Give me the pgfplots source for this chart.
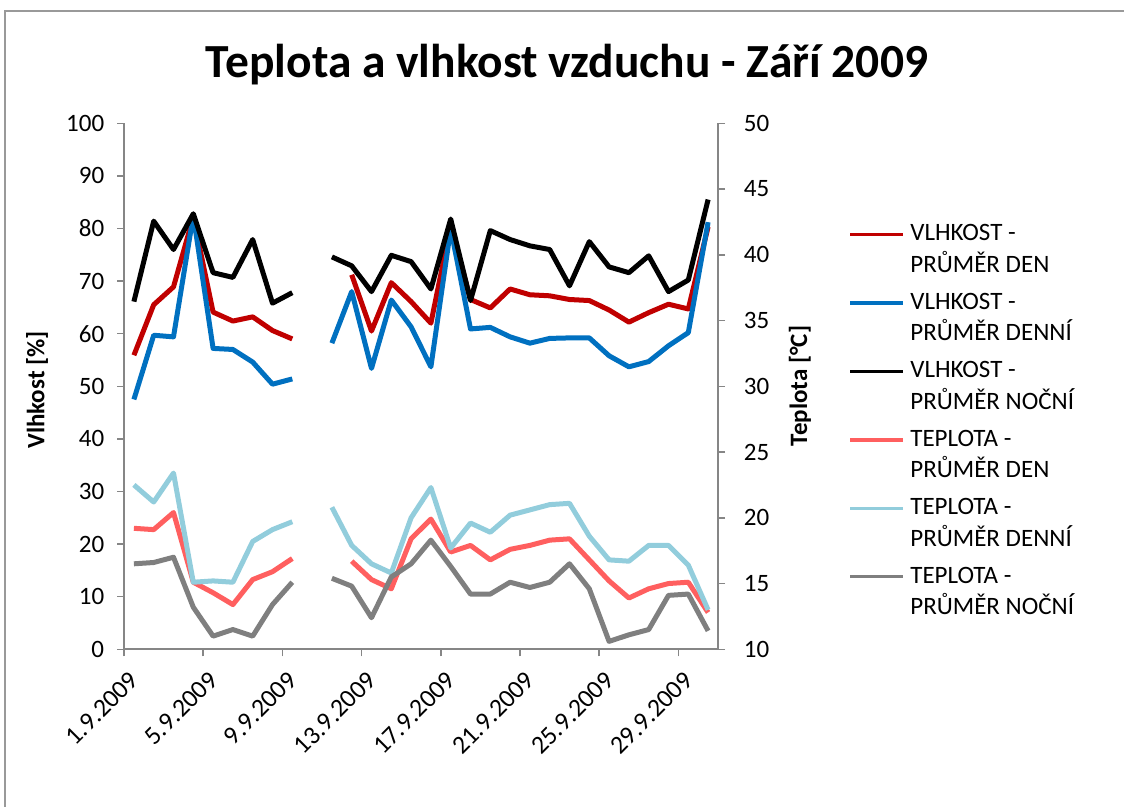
\documentclass[border=0pt]{standalone}
\usepackage{fontspec}
\setmainfont{Carlito}
\usepackage{pgfplots}
\pgfplotsset{compat=1.18}
\usepackage{pgfplotstable}

\definecolor{cVD}{HTML}{C00000}
\definecolor{cVDN}{HTML}{0070C0}
\definecolor{cVN}{HTML}{000000}
\definecolor{cTD}{HTML}{FF5F5F}
\definecolor{cTDN}{HTML}{92CDDC}
\definecolor{cTN}{HTML}{7F7F7F}
\definecolor{axgray}{HTML}{868686}

\pgfplotstableread{
day VD VDN VN TD TDN TN
1 55.9 47.5 66.1 19.2 22.5 16.5
2 65.5 59.7 81.4 19.1 21.2 16.6
3 68.9 59.4 76.0 20.4 23.4 17.0
4 82.2 82.5 82.8 15.1 15.1 13.2
5 64.1 57.2 71.6 14.3 15.2 11.0
6 62.4 57.0 70.7 13.4 15.1 11.5
7 63.2 54.6 77.9 15.3 18.2 11.0
8 60.6 50.4 65.8 15.9 19.1 13.4
9 59.0 51.4 67.8 16.9 19.7 15.1
10 nan nan nan nan nan nan
11 nan 58.2 74.6 nan 20.8 15.4
12 71.2 68.0 72.9 16.7 17.9 14.8
13 60.5 53.4 68.0 15.3 16.5 12.4
14 69.7 66.4 74.9 14.6 15.8 15.5
15 66.1 61.3 73.7 18.4 20.0 16.5
16 62.0 53.7 68.5 19.9 22.3 18.3
17 80.5 80.0 81.8 17.4 17.7 16.3
18 66.5 60.9 66.3 17.9 19.6 14.2
19 64.9 61.2 79.6 16.8 18.9 14.2
20 68.5 59.4 77.9 17.6 20.2 15.1
21 67.4 58.2 76.7 17.9 20.6 14.7
22 67.2 59.1 76.0 18.3 21.0 15.1
23 66.5 59.2 69.1 18.4 21.1 16.5
24 66.3 59.2 77.5 16.8 18.6 14.6
25 64.5 55.8 72.7 15.2 16.8 10.6
26 62.2 53.7 71.6 13.9 16.7 11.1
27 64.0 54.7 74.8 14.6 17.9 11.5
28 65.6 57.7 68.0 15.0 17.9 14.1
29 64.7 60.2 70.2 15.1 16.4 14.2
30 80.3 81.2 85.5 12.8 13.0 11.4
}\data

\pgfplotsset{
  myaxis/.style={
    scale only axis, width=237.6pt, height=210.4pt,
    at={(49.6pt,63.08pt)}, anchor=south west,
    xmin=0.5, xmax=30.5, unbounded coords=jump,
    tick align=outside, major tick length=2.8pt,
    tick style={axgray, line width=0.6pt},
    axis line style={axgray, line width=0.8pt},
    every tick label/.append style={font=\fontsize{10}{12}\selectfont},
    /pgf/number format/assume math mode=true,
  },
  ser/.style={#1, line width=2pt, line join=round, no markers},
}

\begin{document}
\begin{tikzpicture}
\path[use as bounding box] (0,0) rectangle (449.6pt,322.8pt);
\draw[color=black!40, line width=0.8pt] (2pt,0) -- (2pt,318.4pt) -- (449.6pt,318.4pt);

\begin{axis}[myaxis,
  axis y line*=left, axis x line*=bottom,
  ymin=0, ymax=100, ytick={0,10,...,100},
  yticklabel style={xshift=-1.6pt},
  xtick={0.5,4.5,...,28.5},
  xticklabels={1.9.2009,5.9.2009,9.9.2009,13.9.2009,17.9.2009,21.9.2009,25.9.2009,29.9.2009},
  xticklabel style={rotate=45, anchor=east, xshift=0.8pt, yshift=-8.5pt, font=\fontsize{10.3}{12}\selectfont},
]
\addplot[ser=cVD] table[x=day,y=VD]{\data};
\addplot[ser=cVDN] table[x=day,y=VDN]{\data};
\addplot[ser=cVN] table[x=day,y=VN]{\data};
\end{axis}

\begin{axis}[myaxis,
  axis y line*=right, axis x line=none,
  ymin=10, ymax=50, ytick={10,15,...,50},
  yticklabel style={xshift=4pt},
  legend style={at={(1.219,0.8086)}, anchor=north west, draw=none, fill=none,
    font=\fontsize{10}{12.6}\selectfont, cells={anchor=west, align=left},
    row sep=6.8pt, column sep=2.4pt, inner sep=0pt, nodes={inner sep=0pt}},
  legend image code/.code={\draw[#1, line width=1.3pt] (0pt,6.3pt) -- (21pt,6.3pt);},
]
\addlegendimage{ser=cVD}
\addlegendentry{VLHKOST -\\PRŮMĚR DEN}
\addlegendimage{ser=cVDN}
\addlegendentry{VLHKOST -\\PRŮMĚR DENNÍ}
\addlegendimage{ser=cVN}
\addlegendentry{VLHKOST -\\PRŮMĚR NOČNÍ}
\addplot[ser=cTD] table[x=day,y=TD]{\data};
\addlegendentry{TEPLOTA -\\PRŮMĚR DEN}
\addplot[ser=cTDN] table[x=day,y=TDN]{\data};
\addlegendentry{TEPLOTA -\\PRŮMĚR DENNÍ}
\addplot[ser=cTN] table[x=day,y=TN]{\data};
\addlegendentry{TEPLOTA -\\PRŮMĚR NOČNÍ}
\end{axis}

\node[font=\fontsize{19}{22}\bfseries\selectfont, anchor=base] at (226.8pt,291.6pt) {Teplota a vlhkost vzduchu - Září 2009};
\node[rotate=90, font=\fontsize{10}{12}\bfseries\selectfont] at (14.8pt,166.8pt) {Vlhkost [\%]};
\node[rotate=90, font=\fontsize{10}{12}\bfseries\selectfont] at (320pt,168.4pt) {Teplota [°C]};
\end{tikzpicture}
\end{document}
